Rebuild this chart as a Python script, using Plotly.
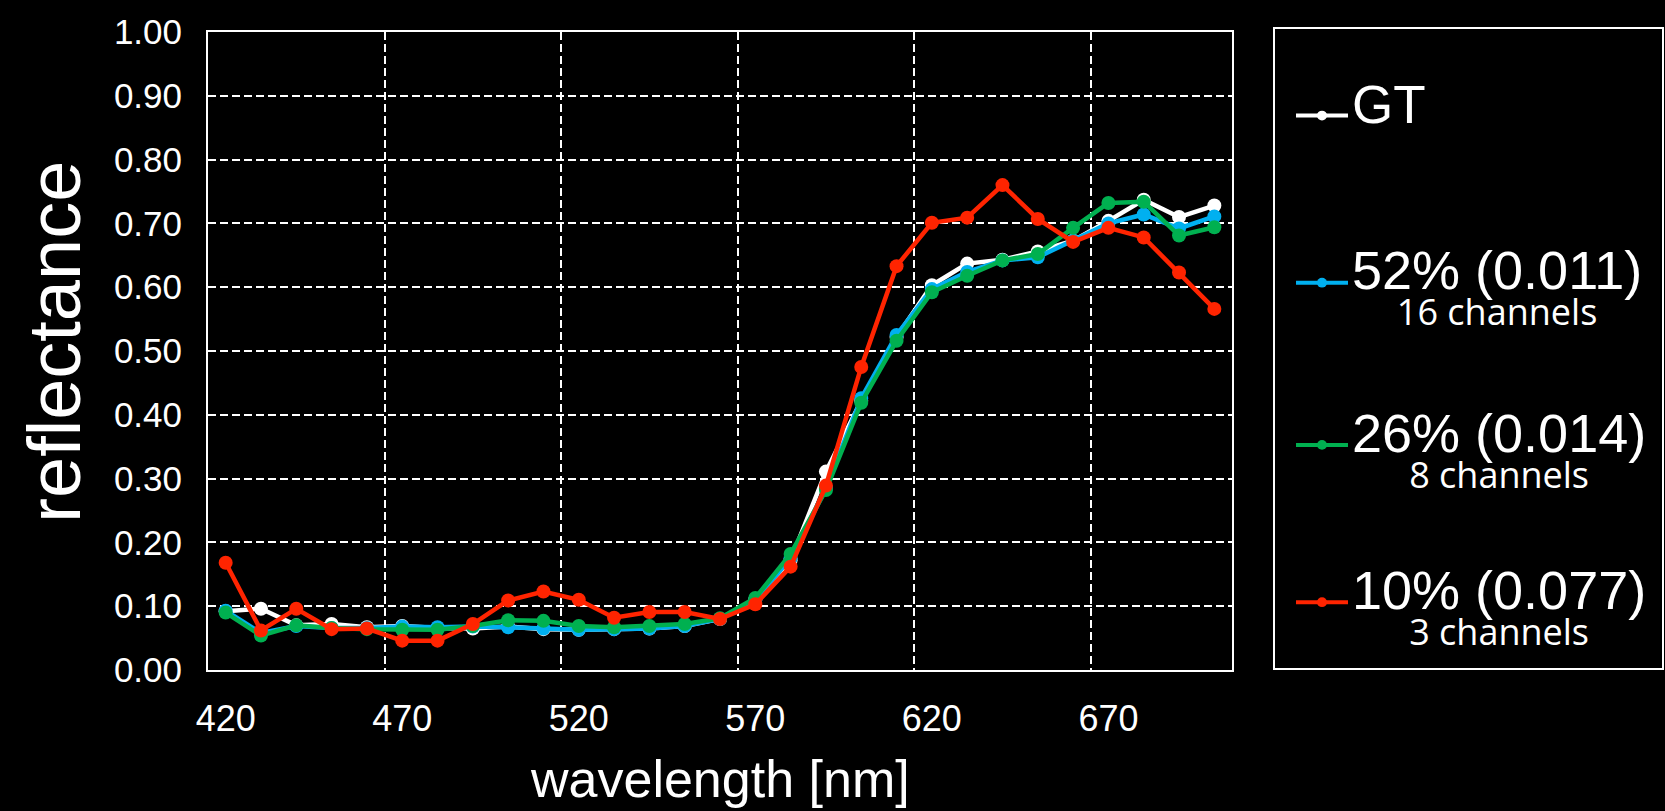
import plotly.graph_objects as go

# Wavelength bands (nm)
wavelength = [420, 430, 440, 450, 460, 470, 480, 490, 500, 510,
              520, 530, 540, 550, 560, 570, 580, 590, 600, 610,
              620, 630, 640, 650, 660, 670, 680, 690, 700]

# Reflectance spectra
gt = [0.092, 0.096, 0.070, 0.072, 0.067, 0.069, 0.066, 0.065, 0.068, 0.064,
      0.063, 0.064, 0.065, 0.069, 0.080, 0.110, 0.172, 0.311, 0.422, 0.522,
      0.603, 0.637, 0.643, 0.656, 0.673, 0.704, 0.737, 0.710, 0.728]
r52 = [0.093, 0.058, 0.069, 0.066, 0.066, 0.068, 0.067, 0.068, 0.067, 0.065,
       0.063, 0.064, 0.065, 0.069, 0.080, 0.110, 0.175, 0.285, 0.426, 0.525,
       0.597, 0.624, 0.642, 0.647, 0.673, 0.700, 0.714, 0.692, 0.711]
r26 = [0.090, 0.054, 0.070, 0.066, 0.064, 0.063, 0.063, 0.069, 0.078, 0.077,
       0.069, 0.067, 0.069, 0.072, 0.081, 0.113, 0.182, 0.282, 0.419, 0.516,
       0.592, 0.618, 0.642, 0.652, 0.693, 0.732, 0.734, 0.681, 0.694]
r10 = [0.168, 0.062, 0.096, 0.064, 0.065, 0.046, 0.046, 0.072, 0.109, 0.123,
       0.110, 0.082, 0.091, 0.091, 0.080, 0.103, 0.162, 0.289, 0.475, 0.633,
       0.701, 0.709, 0.760, 0.707, 0.671, 0.693, 0.678, 0.623, 0.566]

series_names = ["GT", "52% (0.011)", "26% (0.014)", "10% (0.077)"]
series_sub = ["", "16 channels", "8 channels", "3 channels"]
series_colors = ["#FFFFFF", "#00B0F0", "#00B050", "#FF2400"]
series_values = [gt, r52, r26, r10]

x_tick_vals = [420, 470, 520, 570, 620, 670]
x_grid_vals = [465, 515, 565, 615, 665]

W, H = 1665, 811
L, R, T, B = 208, 433, 21, 141
PW, PH = W - L - R, H - T - B


def px(x):
    return (x - L) / PW


def py(y):
    return (H - B - y) / PH


fig = go.Figure()
for name, vals, col in zip(series_names, series_values, series_colors):
    fig.add_trace(go.Scatter(
        x=wavelength, y=vals, mode="lines+markers", name=name,
        line=dict(color=col, width=4.5),
        marker=dict(color=col, size=14),
        showlegend=False,
    ))

grid_dash = "8px,4px"
fig.update_layout(
    width=W, height=H,
    paper_bgcolor="black", plot_bgcolor="black",
    margin=dict(l=L, r=R, t=T, b=B),
    font=dict(family="Liberation Sans, Arial, sans-serif", color="white"),
    xaxis=dict(
        range=[415, 705], tickvals=x_tick_vals,
        ticktext=[str(v) for v in x_tick_vals],
        showgrid=False, zeroline=False,
        showline=True, linecolor="white", linewidth=2, mirror=True,
        ticks="", tickfont=dict(size=36, color="white"),
        ticklabelstandoff=16,
        minor=dict(tickvals=x_grid_vals, showgrid=True, gridcolor="white",
                   gridwidth=2, griddash=grid_dash, ticks=""),
    ),
    yaxis=dict(
        range=[0, 1], tick0=0, dtick=0.1, tickformat=".2f",
        showgrid=True, gridcolor="white", gridwidth=2, griddash=grid_dash,
        zeroline=False,
        showline=True, linecolor="white", linewidth=2, mirror=True,
        ticks="", tickfont=dict(size=35, color="white"),
        ticklabelstandoff=17,
    ),
)

# Axis titles
fig.add_annotation(text="wavelength [nm]", xref="paper", yref="paper",
                   x=px(720), y=py(781), showarrow=False,
                   xanchor="center", yanchor="middle",
                   font=dict(size=52, color="white"))
fig.add_annotation(text="reflectance", xref="paper", yref="paper",
                   x=px(55), y=py(336), showarrow=False, textangle=-90,
                   xanchor="center", yanchor="middle",
                   font=dict(size=74, color="white"))

# Legend panel
fig.add_shape(type="rect", xref="paper", yref="paper",
              x0=px(1274), x1=px(1663), y0=py(669), y1=py(17),
              line=dict(color="white", width=2), fillcolor="black")

legend_y = [106, 276, 441, 601]
for i, (name, sub, col) in enumerate(zip(series_names, series_sub, series_colors)):
    ly = legend_y[i]
    fig.add_shape(type="line", xref="paper", yref="paper",
                  x0=px(1296), x1=px(1348), y0=py(ly), y1=py(ly),
                  line=dict(color=col, width=4))
    fig.add_shape(type="circle", xref="paper", yref="paper",
                  x0=px(1317), x1=px(1327), y0=py(ly + 5), y1=py(ly - 5),
                  line=dict(color=col, width=0), fillcolor=col)
    if sub:
        # two-line label: large series name with channel count below
        label = (f"<span style='font-size:54px'>{name}</span><br>"
                 f"<span style='font-size:36px;font-family:Open Sans, sans-serif'>{sub}</span>")
        fig.add_annotation(text=label, xref="paper", yref="paper",
                           x=px(1350), y=py(ly - 45), showarrow=False,
                           xanchor="left", yanchor="top", align="center",
                           font=dict(size=28, color="white"))
    else:
        fig.add_annotation(text=name, xref="paper", yref="paper",
                           x=px(1350), y=py(ly - 11), showarrow=False,
                           xanchor="left", yanchor="middle",
                           font=dict(size=53, color="white"))

fig.write_html("out.html")
